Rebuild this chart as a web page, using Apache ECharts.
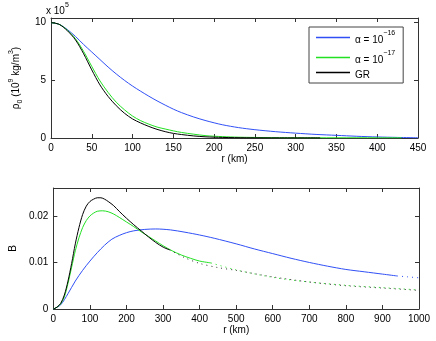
<!DOCTYPE html>
<html>
<head>
<meta charset="utf-8">
<script src="https://cdn.jsdelivr.net/npm/echarts@6/dist/echarts.min.js"></script>
<style>
  html, body { margin: 0; padding: 0; background: #fff; }
  #main { width: 436px; height: 341px; }
</style>
</head>
<body>
<div id="main"></div>
<script>
// top panel: rho_0 in units of 1e5 (x 10^5 shown at top)
var rBlueTop = [0,10,20,30,40,50,60,70,80,90,100,110,120,130,140,150,160,175,190,210,230,250,275,300,325,350,375,400,425,450];
var rhoBlue  = [10,9.85,9.4,8.8,8.1,7.45,6.8,6.15,5.55,5.0,4.5,4.05,3.62,3.22,2.85,2.5,2.2,1.82,1.5,1.15,0.9,0.72,0.55,0.42,0.31,0.23,0.15,0.09,0.05,0.02];
var rGreenTop = [0,10,20,30,40,50,60,70,80,90,100,110,120,130,140,150,160,175,190,210,230,260,300,350,400,430];
var rhoGreen  = [10,9.85,9.35,8.6,7.5,6.2,4.95,3.95,3.1,2.45,1.9,1.5,1.2,0.95,0.78,0.62,0.48,0.33,0.2,0.12,0.07,0.04,0.02,0.02,0.02,0.02];
var rBlackTop = [0,10,20,30,40,50,60,70,80,90,100,110,120,130,140,150,160,175,190,210,240,280,330];
var rhoBlack  = [10,9.85,9.3,8.5,7.3,5.9,4.6,3.6,2.8,2.15,1.65,1.3,1.0,0.75,0.55,0.4,0.3,0.18,0.1,0.05,0.02,0.01,0.01];

// bottom panel: B
var rBlueB = [0,20,40,60,80,100,120,140,160,180,200,220,250,280,320,360,400,440,500,550,600,650,700,750,800,850,900,940];
var bBlue  = [0,0.0009,0.0033,0.0060,0.0083,0.0103,0.0121,0.0137,0.0150,0.0158,0.0164,0.0168,0.0171,0.0172,0.0170,0.0165,0.0159,0.0152,0.0140,0.0129,0.0119,0.0109,0.0100,0.0092,0.0085,0.0080,0.0075,0.0071];
var rBlueDot = [940,970,1000];
var bBlueDot = [0.0071,0.0069,0.0067];
var rGreenB = [0,10,20,30,40,50,60,70,80,90,100,110,120,135,150,165,180,200,220,240,260,280,300,325,350,375,400,431];
var bGreen  = [0,0.0004,0.0011,0.0026,0.0055,0.0090,0.0125,0.0153,0.0175,0.0190,0.0200,0.0206,0.0210,0.0211,0.0209,0.0204,0.0197,0.0187,0.0177,0.0166,0.0156,0.0146,0.0136,0.0125,0.0116,0.0109,0.0103,0.0099];
var rGreenDot = [431,500,600,700,800,900,1000];
var bGreenDot = [0.0099,0.0084,0.0068,0.0058,0.0051,0.0046,0.0041];
var rBlackB = [0,10,20,30,40,50,60,70,80,90,100,110,120,130,140,150,165,180,200,220,240,260,280,300,318];
var bBlack  = [0,0.0004,0.0012,0.0030,0.0060,0.0098,0.0140,0.0175,0.0203,0.0221,0.0231,0.0236,0.0239,0.0239,0.0236,0.0231,0.0222,0.0210,0.0195,0.0181,0.0168,0.0155,0.0143,0.0133,0.0127];
var rBlackDot = [318,360,400,450,500,600,700,800,900,1000];
var bBlackDot = [0.0127,0.0110,0.0098,0.0089,0.0083,0.0069,0.0058,0.0050,0.0045,0.0040];

var legendNames = ['a16', 'a17', 'GR'];
var legendLabels = { a16: '{a|α = 10}{s|−16}', a17: '{a|α = 10}{s|−17}', GR: '{a|GR}' };

var BLUE = '#3050f5';
var GREEN = '#22e022';
var BLACK = '#000000';
var FONT = 'Liberation Sans';

var zip = function (xs, ys) {
    return xs.map(function (x, i) { return [x, ys[i]]; });
};

var myChart = echarts.init(document.getElementById('main'), null, { renderer: 'canvas' });

// helper: frame axis (MATLAB-like box with inner ticks)
var frameAxis = function (extra) {
    var base = {
        axisLine: { show: true, onZero: false, lineStyle: { color: '#333', width: 1 } },
        axisTick: { show: true, inside: true, length: 4, lineStyle: { color: '#333' } },
        splitLine: { show: false },
        axisLabel: { show: false }
    };
    return Object.assign(base, extra);
};

var tickLabel = { show: true, color: '#000', fontSize: 10, fontFamily: FONT, margin: 5,
    formatter: function (v) { return String(v); } };
var nameStyle = { color: '#000', fontSize: 10, fontFamily: FONT };

var option = {
    animation: false,
    backgroundColor: '#fff',
    textStyle: { fontFamily: FONT },
    grid: [
        { left: 46, top: 18, width: 372, height: 120 },
        { left: 46, top: 188, width: 373, height: 121 }
    ],
    xAxis: [
        frameAxis({ gridIndex: 0, type: 'value', min: 0, max: 450, interval: 50, position: 'bottom',
            axisLabel: tickLabel, name: 'r (km)', nameLocation: 'middle', nameGap: 15, nameTextStyle: nameStyle }),
        frameAxis({ gridIndex: 0, type: 'value', min: 0, max: 450, interval: 50, position: 'top' }),
        frameAxis({ gridIndex: 1, type: 'value', min: 0, max: 1000, interval: 100, position: 'bottom',
            axisLabel: tickLabel, name: 'r (km)', nameLocation: 'middle', nameGap: 14, nameTextStyle: nameStyle }),
        frameAxis({ gridIndex: 1, type: 'value', min: 0, max: 1000, interval: 100, position: 'top' })
    ],
    yAxis: [
        frameAxis({ gridIndex: 0, type: 'value', min: 0, max: 10.4, position: 'left',
            axisTick: { show: true, inside: true, length: 4, customValues: [0, 5, 10], lineStyle: { color: '#333' } },
            axisLabel: Object.assign({ customValues: [0, 5, 10] }, tickLabel),
            name: '{r|ρ}{sub|0}{r| (10}{sup|9}{r| kg/m}{sup|3}{r|)}', nameLocation: 'middle', nameGap: 20,
            nameTextStyle: {
                color: '#000', fontFamily: FONT,
                rich: {
                    r: { fontSize: 10, fontFamily: FONT, color: '#000', lineHeight: 16, verticalAlign: 'middle' },
                    sub: { fontSize: 7, fontFamily: FONT, color: '#000', verticalAlign: 'bottom', lineHeight: 16 },
                    sup: { fontSize: 7, fontFamily: FONT, color: '#000', verticalAlign: 'top', lineHeight: 16 }
                }
            } }),
        frameAxis({ gridIndex: 0, type: 'value', min: 0, max: 10.4, position: 'right',
            axisTick: { show: true, inside: true, length: 4, customValues: [0, 5, 10], lineStyle: { color: '#333' } } }),
        frameAxis({ gridIndex: 1, type: 'value', min: 0, max: 0.026, position: 'left',
            axisTick: { show: true, inside: true, length: 4, customValues: [0, 0.01, 0.02], lineStyle: { color: '#333' } },
            axisLabel: Object.assign({ customValues: [0, 0.01, 0.02] }, tickLabel),
            name: 'B', nameLocation: 'middle', nameGap: 30, nameTextStyle: nameStyle }),
        frameAxis({ gridIndex: 1, type: 'value', min: 0, max: 0.026, position: 'right',
            axisTick: { show: true, inside: true, length: 4, customValues: [0, 0.01, 0.02], lineStyle: { color: '#333' } } })
    ],
    legend: {
        data: legendNames.map(function (n) { return { name: n, icon: 'rect' }; }),
        orient: 'vertical',
        left: 309,
        top: 27,
        padding: [3, 8, 3, 7],
        itemGap: 5,
        itemWidth: 34,
        itemHeight: 1.5,
        borderColor: '#444',
        borderWidth: 1,
        backgroundColor: '#fff',
        selectedMode: false,
        formatter: function (name) { return legendLabels[name]; },
        textStyle: {
            rich: {
                a: { fontSize: 10, fontFamily: FONT, color: '#000', lineHeight: 15, verticalAlign: 'bottom' },
                s: { fontSize: 7, fontFamily: FONT, color: '#000', lineHeight: 15, verticalAlign: 'top' }
            }
        }
    },
    graphic: [{
        type: 'text',
        left: 46,
        top: 2,
        style: {
            text: '{a|x 10}{s|5}',
            rich: {
                a: { fontSize: 10, fontFamily: FONT, fill: '#000', lineHeight: 14, verticalAlign: 'bottom' },
                s: { fontSize: 7, fontFamily: FONT, fill: '#000', lineHeight: 14, verticalAlign: 'top' }
            }
        }
    }],
    series: []
};

var addLine = function (name, xi, yi, data, color, dotted) {
    option.series.push({
        name: name,
        type: 'line',
        xAxisIndex: xi,
        yAxisIndex: yi,
        data: data,
        symbol: 'none',
        smooth: 0.3,
        clip: true,
        lineStyle: { color: color, width: 1, type: dotted ? [1, 4] : 'solid' },
        itemStyle: { color: color }
    });
};

// top panel
addLine('a16', 0, 0, zip(rBlueTop, rhoBlue), BLUE, false);
addLine('a17', 0, 0, zip(rGreenTop, rhoGreen), GREEN, false);
addLine('GR', 0, 0, zip(rBlackTop, rhoBlack), BLACK, false);

// bottom panel
addLine('B a16', 2, 2, zip(rBlueB, bBlue), BLUE, false);
addLine('B a16 dot', 2, 2, zip(rBlueDot, bBlueDot), BLUE, true);
addLine('B a17', 2, 2, zip(rGreenB, bGreen), GREEN, false);
addLine('B a17 dot', 2, 2, zip(rGreenDot, bGreenDot), GREEN, true);
addLine('B GR', 2, 2, zip(rBlackB, bBlack), BLACK, false);
addLine('B GR dot', 2, 2, zip(rBlackDot, bBlackDot), '#333', true);

myChart.setOption(option);
</script>
</body>
</html>
